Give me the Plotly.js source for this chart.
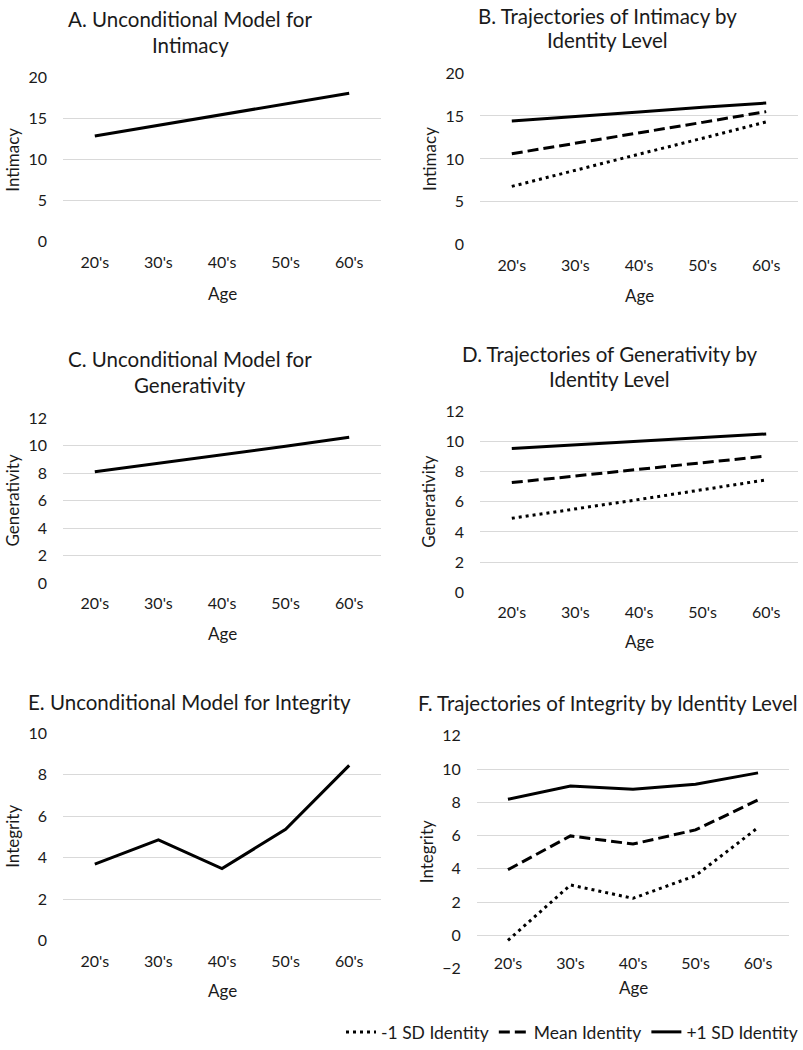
<!DOCTYPE html>
<html><head><meta charset="utf-8">
<script src="https://cdn.plot.ly/plotly-3.0.1.min.js"></script>
<style>html,body{margin:0;padding:0;background:#fff}</style>
</head><body><div id="chart" style="width:803px;height:1050px"></div>
<script>
// ---- data ----
const ages = ["20's", "30's", "40's", "50's", "60's"];
const seriesNames = ["-1 SD Identity", "Mean Identity", "+1 SD Identity"];
const intimacyUncond = [12.9, 14.2, 15.5, 16.8, 18.1];
const intimacyLow = [6.8, 8.7, 10.55, 12.4, 14.3];
const intimacyMean = [10.6, 11.8, 13.0, 14.25, 15.5];
const intimacyHigh = [14.4, 14.9, 15.45, 16.0, 16.5];
const generUncond = [8.1, 8.7, 9.35, 9.95, 10.6];
const generLow = [4.9, 5.5, 6.15, 6.8, 7.45];
const generMean = [7.27, 7.7, 8.15, 8.6, 9.03];
const generHigh = [9.53, 9.77, 10.0, 10.25, 10.5];
const integUncond = [3.68, 4.85, 3.47, 5.36, 8.45];
const integLow = [-0.3, 3.03, 2.23, 3.59, 6.48];
const integMean = [3.95, 5.98, 5.49, 6.34, 8.14];
const integHigh = [8.18, 8.98, 8.78, 9.08, 9.77];
const panelTitles = [
  ["A. Unconditional Model for", "Intimacy"],
  ["B. Trajectories of Intimacy by", "Identity Level"],
  ["C. Unconditional Model for", "Generativity"],
  ["D. Trajectories of Generativity by", "Identity Level"],
  ["E. Unconditional Model for Integrity"],
  ["F. Trajectories of Integrity by Identity Level"]
];
const yTitles = ["Intimacy", "Intimacy", "Generativity", "Generativity", "Integrity", "Integrity"];
const xTitle = "Age";

// ---- layout geometry (pixels) ----
const W = 803, H = 1050;
const FONT = "Lato, 'Liberation Sans', sans-serif";
const TXT = "#1a1a1a";
const px = v => v / W;
const py = v => 1 - v / H;

const panels = [
  {x0: 63, x1: 381, yt: 78, yb: 243, range: [0, 20], dtick: 5, titleY: [19, 45], titleX: 190, ytx: 13, xlab: 295},
  {x0: 480, x1: 798, yt: 73.3, yb: 246, range: [0, 20], dtick: 5, titleY: [16, 40], titleX: 607, ytx: 430, xlab: 297},
  {x0: 63, x1: 381, yt: 420, yb: 586, range: [0, 12], dtick: 2, titleY: [361, 387], titleX: 190, ytx: 13, xlab: 637},
  {x0: 480, x1: 798, yt: 413.3, yb: 595, range: [0, 12], dtick: 2, titleY: [356, 381], titleX: 609, ytx: 429, xlab: 645},
  {x0: 63, x1: 381, yt: 736.7, yb: 945, range: [0, 10], dtick: 2, titleY: [705], titleX: 189, ytx: 13, xlab: 995},
  {x0: 476.7, x1: 789.3, yt: 739.3, yb: 973.3, range: [-2, 12], dtick: 2, titleY: [706], titleX: 608, ytx: 426, xlab: 992, xAxisAtPx: 948}
];

const styles = [
  {dash: "3px,4px", width: 3},
  {dash: "11px,5px", width: 3},
  {dash: "solid", width: 3}
];

const traces = [];
function addTrace(i, y, styleIdx, name, showlegend) {
  const s = i === 0 ? "" : String(i + 1);
  traces.push({
    x: ages, y: y, type: "scatter", mode: "lines",
    xaxis: "x" + s, yaxis: "y" + s,
    name: name, showlegend: showlegend, legendgroup: name,
    line: {color: "#000", width: styles[styleIdx].width, dash: styles[styleIdx].dash},
    hoverinfo: "skip"
  });
}
addTrace(0, intimacyUncond, 2, "Intimacy", false);
addTrace(1, intimacyLow, 0, seriesNames[0], true);
addTrace(1, intimacyMean, 1, seriesNames[1], true);
addTrace(1, intimacyHigh, 2, seriesNames[2], true);
addTrace(2, generUncond, 2, "Generativity", false);
addTrace(3, generLow, 0, seriesNames[0], false);
addTrace(3, generMean, 1, seriesNames[1], false);
addTrace(3, generHigh, 2, seriesNames[2], false);
addTrace(4, integUncond, 2, "Integrity", false);
addTrace(5, integLow, 0, seriesNames[0], false);
addTrace(5, integMean, 1, seriesNames[1], false);
addTrace(5, integHigh, 2, seriesNames[2], false);

const layout = {
  width: W, height: H,
  margin: {l: 0, r: 0, t: 0, b: 0},
  paper_bgcolor: "#fff", plot_bgcolor: "#fff",
  font: {family: FONT, color: TXT, size: 16},
  showlegend: true,
  legend: {
    orientation: "h", x: 1, xanchor: "right", y: py(1037), yanchor: "middle",
    font: {family: FONT, size: 17.5, color: TXT},
    traceorder: "normal", itemwidth: 30, bgcolor: "rgba(0,0,0,0)"
  },
  annotations: []
};

panels.forEach((p, i) => {
  const s = i === 0 ? "" : String(i + 1);
  const xa = {
    domain: [px(p.x0), px(p.x1)],
    type: "category", range: [-0.5, 4.5],
    showgrid: false, showline: false, zeroline: false, ticks: "",
    tickfont: {family: FONT, size: 16, color: TXT},
    ticklabelstandoff: 9, fixedrange: true
  };
  if (p.xAxisAtPx !== undefined) {
    // Excel places the category labels at the y = 0 crossing
    xa.anchor = "free";
    xa.position = py(p.xAxisAtPx);
  } else {
    xa.anchor = "y" + s;
  }
  const ya = {
    domain: [py(p.yb), py(p.yt)],
    anchor: "x" + s,
    range: p.range, dtick: p.dtick, tick0: 0,
    showgrid: true, gridcolor: "#d9d9d9", gridwidth: 1,
    zeroline: false, showline: false, ticks: "",
    tickfont: {family: FONT, size: 16, color: TXT},
    ticklabelstandoff: 15, fixedrange: true
  };
  layout["xaxis" + s] = xa;
  layout["yaxis" + s] = ya;

  panelTitles[i].forEach((t, k) => {
    layout.annotations.push({
      text: t, xref: "paper", yref: "paper",
      x: px(p.titleX), y: py(p.titleY[k]), xanchor: "center", yanchor: "middle",
      showarrow: false, font: {family: FONT, size: 20.5, color: TXT}
    });
  });
  layout.annotations.push({
    text: yTitles[i], xref: "paper", yref: "paper",
    x: px(p.ytx), y: (py(p.yb) + py(p.yt)) / 2, xanchor: "center", yanchor: "middle",
    textangle: -90, showarrow: false, font: {family: FONT, size: 17, color: TXT}
  });
  layout.annotations.push({
    text: xTitle, xref: "paper", yref: "paper",
    x: (px(p.x0) + px(p.x1)) / 2, y: py(p.xlab), xanchor: "center", yanchor: "middle",
    showarrow: false, font: {family: FONT, size: 17, color: TXT}
  });
});

Plotly.newPlot("chart", traces, layout, {staticPlot: true, displayModeBar: false});
</script>
</body></html>
